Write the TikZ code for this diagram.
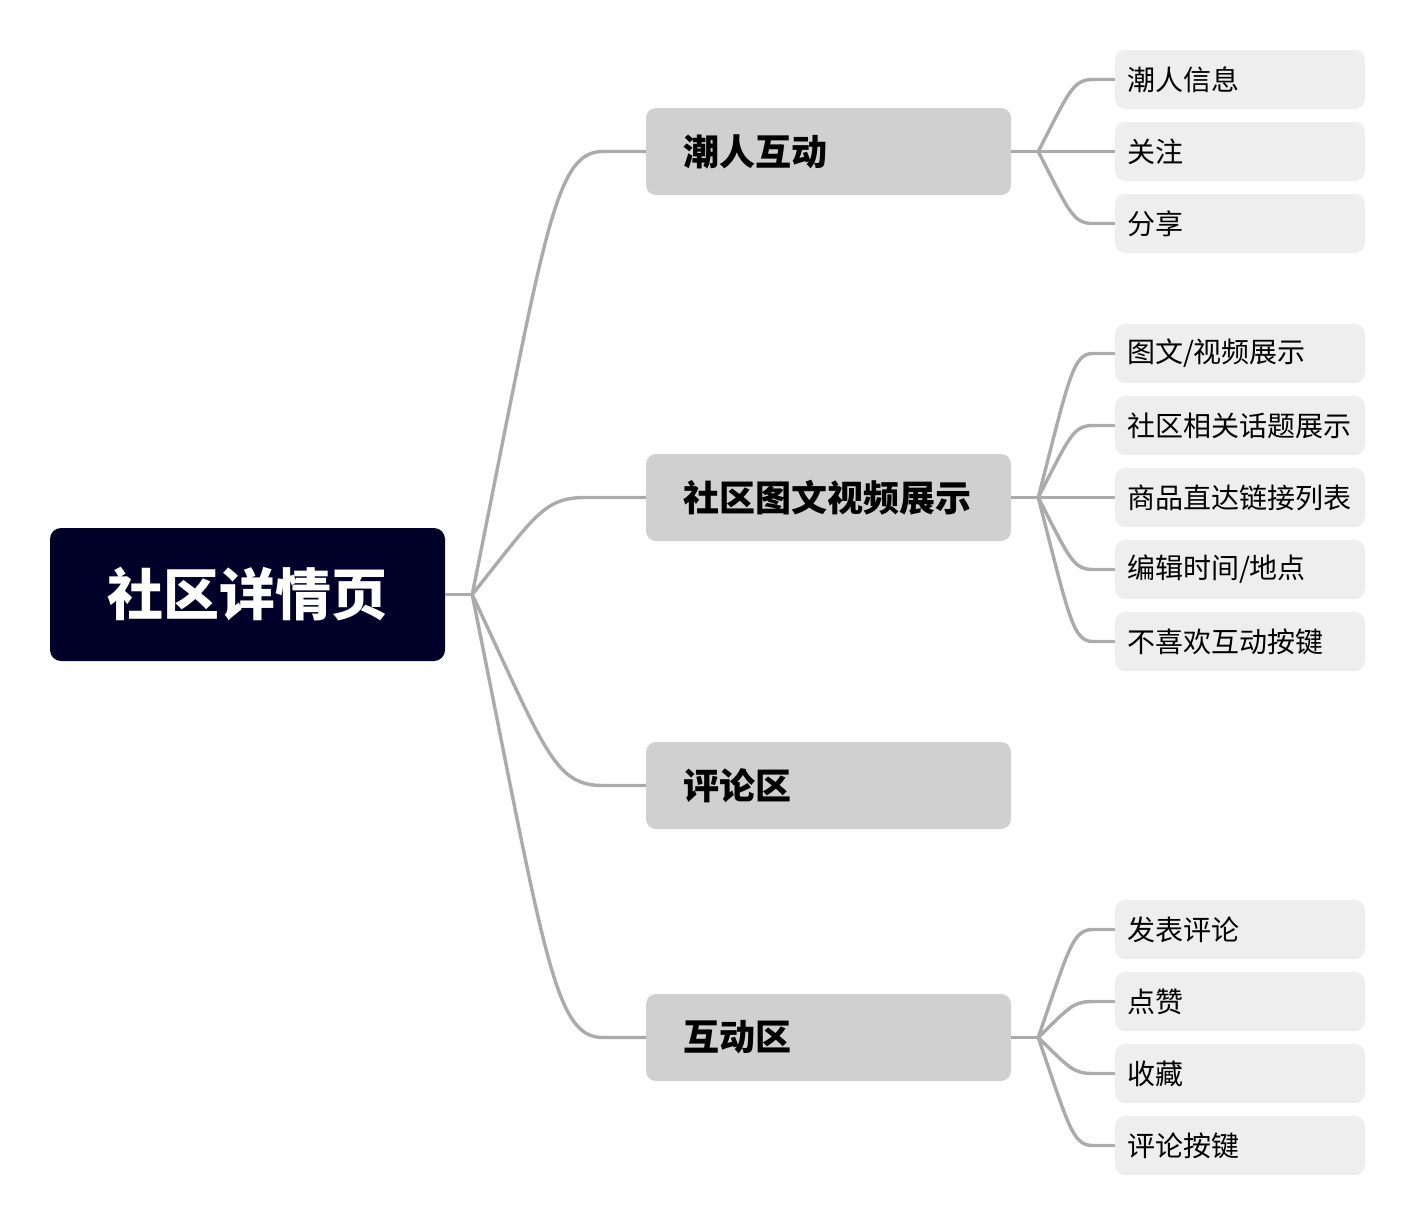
\documentclass[tikz,border=0pt]{standalone}
\usepackage{fontspec}
\setmainfont{Noto Sans CJK SC}
\usetikzlibrary{calc}
\definecolor{rootc}{HTML}{000028}
\definecolor{lonec}{HTML}{D0D0D0}
\definecolor{ltwoc}{HTML}{EEEEEE}
\definecolor{linec}{HTML}{ABABAB}
\tikzset{
  rootbox/.style={rectangle, rounded corners=11pt, fill=rootc, text=white,
    minimum width=395pt, minimum height=133pt, inner sep=0pt,
    font=\fontsize{56}{62}\selectfont\bfseries},
  lonebox/.style={rectangle, rounded corners=10pt, fill=lonec, text=black,
    minimum width=365pt, minimum height=87pt, inner xsep=37pt, inner ysep=0pt,
    text width=291pt, align=left, font=\fontsize{36}{42}\selectfont\bfseries},
  ltwobox/.style={rectangle, rounded corners=10pt, fill=ltwoc, text=black,
    minimum width=250pt, minimum height=59pt, inner xsep=12pt, inner ysep=0pt,
    text width=226pt, align=left, font=\fontsize{28}{32}\selectfont},
  conn/.style={draw=linec, line width=3.4pt, line join=round},
  branchpath/.style={to path={let \p1=(\tikztostart), \p2=(\tikztotarget) in
    .. controls ({\x1+0.56*(\x2-\x1)},{\y2+0.18*(\y1-\y2)}) and ({\x1+0.63*(\x2-\x1)},\y2) .. (\tikztotarget)}}
}
\begin{document}
\begin{tikzpicture}[x=1pt,y=-1pt]
\useasboundingbox (0,0) rectangle (1416,1221);
% root
\node[rootbox] (root) at (247.5,594.5) {社区详情页};
% level 1
\node[lonebox] (a) at (828.5,151.5) {潮人互动};
\node[lonebox] (b) at (828.5,497.5) {社区图文视频展示};
\node[lonebox] (c) at (828.5,785.5) {评论区};
\node[lonebox] (d) at (828.5,1037.5) {互动区};
% level 2
\node[ltwobox] (a1) at (1240,79.5) {潮人信息};
\node[ltwobox] (a2) at (1240,151.5) {关注};
\node[ltwobox] (a3) at (1240,223.5) {分享};
\node[ltwobox] (b1) at (1240,353.5) {图文/视频展示};
\node[ltwobox] (b2) at (1240,425.5) {社区相关话题展示};
\node[ltwobox] (b3) at (1240,497.5) {商品直达链接列表};
\node[ltwobox] (b4) at (1240,569.5) {编辑时间/地点};
\node[ltwobox] (b5) at (1240,641.5) {不喜欢互动按键};
\node[ltwobox] (d1) at (1240,929.5) {发表评论};
\node[ltwobox] (d2) at (1240,1001.5) {点赞};
\node[ltwobox] (d3) at (1240,1073.5) {收藏};
\node[ltwobox] (d4) at (1240,1145.5) {评论按键};
% branch points
\coordinate (rb) at ([xshift=27pt]root.east);
\coordinate (ab) at ([xshift=27pt]a.east);
\coordinate (bb) at ([xshift=27pt]b.east);
\coordinate (db) at ([xshift=27pt]d.east);
% connectors root -> level 1
\draw[conn] (root.east) -- (rb);
\foreach \n in {a,c,d}{
  \draw[conn] (rb) to[branchpath] ([xshift=-43pt]\n.west) -- (\n.west);
}
\draw[conn] (rb) to[branchpath] ([xshift=-60pt]b.west) -- (b.west);
% connectors level 1 -> level 2
\draw[conn] (a.east) -- (ab);
\draw[conn] (b.east) -- (bb);
\draw[conn] (d.east) -- (db);
\foreach \n in {a1,a2,a3}{
  \draw[conn] (ab) to[branchpath] ([xshift=-22pt]\n.west) -- (\n.west);
}
\foreach \n in {b1,b2,b3,b4,b5}{
  \draw[conn] (bb) to[branchpath] ([xshift=-22pt]\n.west) -- (\n.west);
}
\foreach \n in {d1,d2,d3,d4}{
  \draw[conn] (db) to[branchpath] ([xshift=-22pt]\n.west) -- (\n.west);
}
\end{tikzpicture}
\end{document}
